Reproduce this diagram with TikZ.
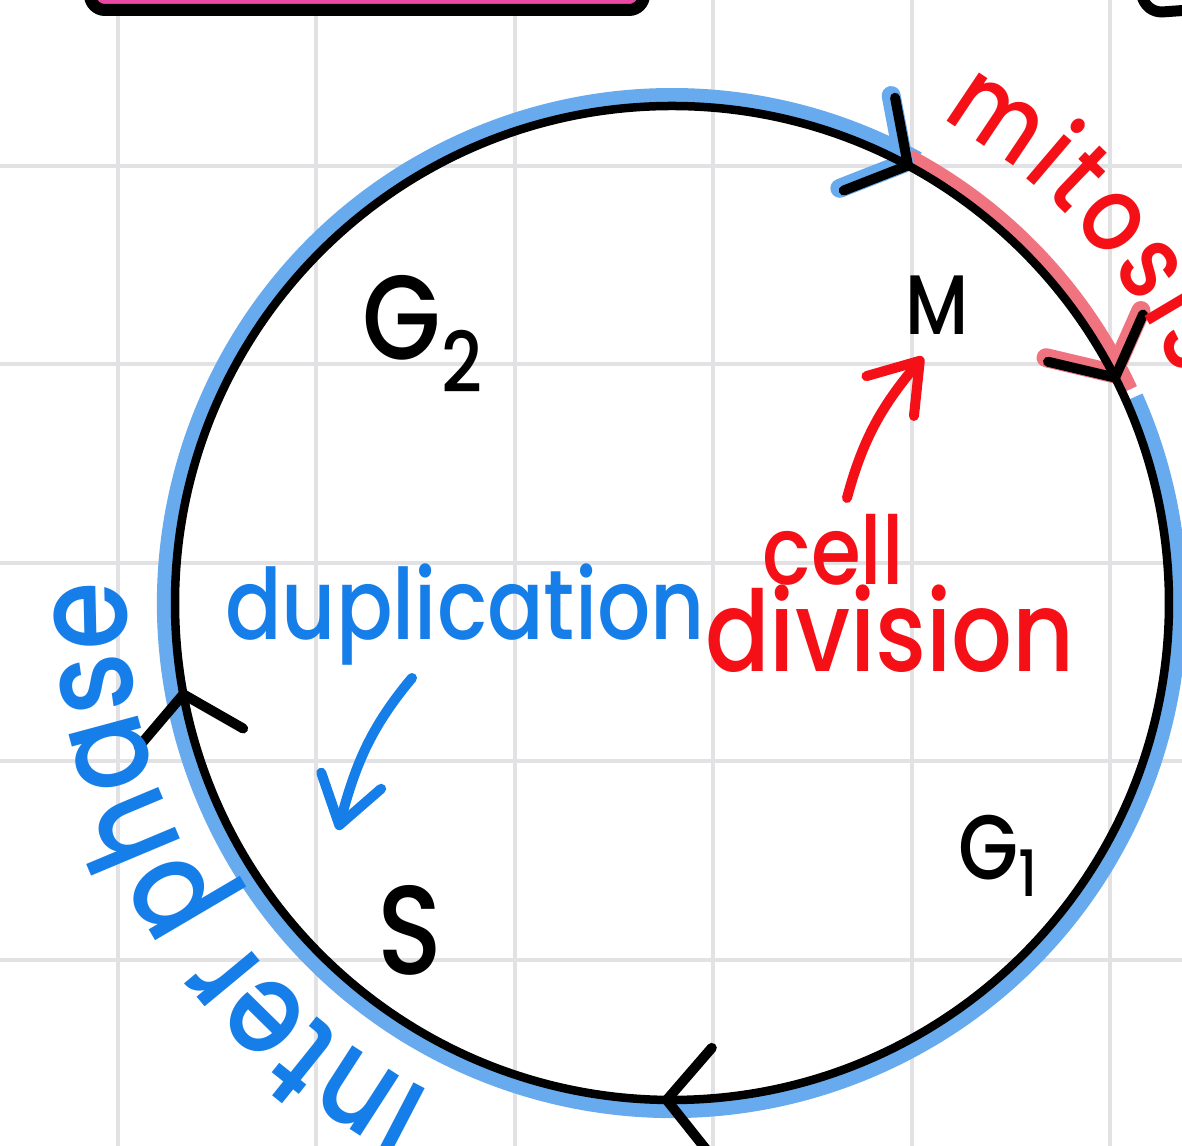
\documentclass[tikz,border=0pt]{standalone}
\usepackage{fontspec}
\newfontfamily\handfont{Poppins Medium}[FakeStretch=0.85]
\usetikzlibrary{arrows.meta,calc,decorations.markings,decorations.text}

\definecolor{gridgray}{RGB}{226,226,228}
\definecolor{bandblue}{RGB}{104,170,238}
\definecolor{bandpink}{RGB}{240,116,128}
\definecolor{inkblue}{RGB}{22,126,232}
\definecolor{inkred}{RGB}{244,16,22}
\definecolor{boxpink}{RGB}{234,72,164}

\tikzset{
  cyclehead/.tip={Straight Barb[length=4.4mm,width=10.6mm,round,line width=1mm]},
  halohead/.tip={Straight Barb[length=4.4mm,width=10.6mm,round,line width=1.9mm]},
  notehead/.tip={Straight Barb[length=4.6mm,width=6.2mm,round]},
  gridline/.style={gridgray,line width=0.4mm},
  ring/.style={line width=0.85mm},
  band/.style={line width=1.8mm},
  phase/.style={inner sep=0pt,font=\handfont\fontsize{#1}{#1}\selectfont},
  note/.style={line width=1mm,line cap=round,-notehead},
}

\begin{document}
\begin{tikzpicture}
\useasboundingbox (0,0) rectangle (11.82,11.46);
\clip (0,0) rectangle (11.82,11.46);
\fill[white] (0,0) rectangle (11.82,11.46);
\foreach \x in {1.18,3.165,5.15,7.135,9.12,11.105}
  \draw[gridline] (\x,0) -- (\x,11.46);
\foreach \y in {1.86,3.845,5.83,7.815,9.80}
  \draw[gridline] (0,\y) -- (11.82,\y);

\draw[line width=1.2mm,fill=boxpink,rounded corners=1.5mm] (0.9,11.36) rectangle (6.44,12);
\draw[line width=1.1mm,line cap=round] (11.42,11.5) to[out=-75,in=180] (11.62,11.34) -- (11.9,11.36);

\coordinate (c) at (6.72,5.43);
\draw[band,bandblue] ($(c)+(24:5.06)$) arc[start angle=24,end angle=-299,radius=5.06];
\draw[band,bandpink] ($(c)+(62:5.04)$) arc[start angle=62,end angle=25,radius=5.04];
\path[postaction={decorate},decoration={markings,
    mark=at position 0.1697 with {\arrowreversed[bandblue]{halohead}},
    mark=at position 0.0733 with {\arrowreversed[bandpink]{halohead}}}]
  (c) circle[radius=4.97];
\draw[ring,postaction={decorate},decoration={markings,
    mark=at position 0.1697 with {\arrowreversed{cyclehead}},
    mark=at position 0.0733 with {\arrowreversed{cyclehead}},
    mark=at position 0.5278 with {\arrowreversed{cyclehead}},
    mark=at position 0.7467 with {\arrowreversed{cyclehead}}}]
  (c) circle[radius=4.97];

\node[phase=34,anchor=base west] (G2) at (3.62,7.86) {G\textsubscript{2}};
\node[phase=24,anchor=base] (M) at (9.37,8.11) {M};
\node[phase=26,anchor=base west] (G1) at (9.58,2.66) {G\textsubscript{1}};
\node[phase=36,anchor=base] (S) at (4.10,1.71) {S};
\node[phase=28,anchor=base,inkblue] (dup) at (4.65,5.06) {duplication};
\node[phase=27,anchor=base,inkred] (cell) at (8.33,5.61) {cell};
\node[phase=32,anchor=base,inkred] (division) at (8.90,4.74) {division};

\path[decorate,decoration={text along path,text color=inkred,text align=fit to path,
    text={|\handfont\fontsize{30}{30}\selectfont|mitosis}}]
  ($(c)+(61:5.53)$) arc[start angle=61,end angle=24,radius=5.53];
\path[decorate,decoration={text along path,text color=inkblue,text align=fit to path,
    text={|\handfont\fontsize{37}{37}\selectfont|inter phase}}]
  ($(c)+(244:5.45)$) arc[start angle=244,end angle=178,radius=5.45];

\coordinate (dupTail) at (4.12,4.68);
\coordinate (dupTip) at (3.38,3.16);
\draw[note,inkblue] (dupTail) to[out=230,in=75] (dupTip);
\coordinate (divTail) at (8.47,6.48);
\coordinate (divTip) at (9.23,7.89);
\draw[note,inkred] (divTail) to[out=75,in=230] (divTip);
\end{tikzpicture}
\end{document}
